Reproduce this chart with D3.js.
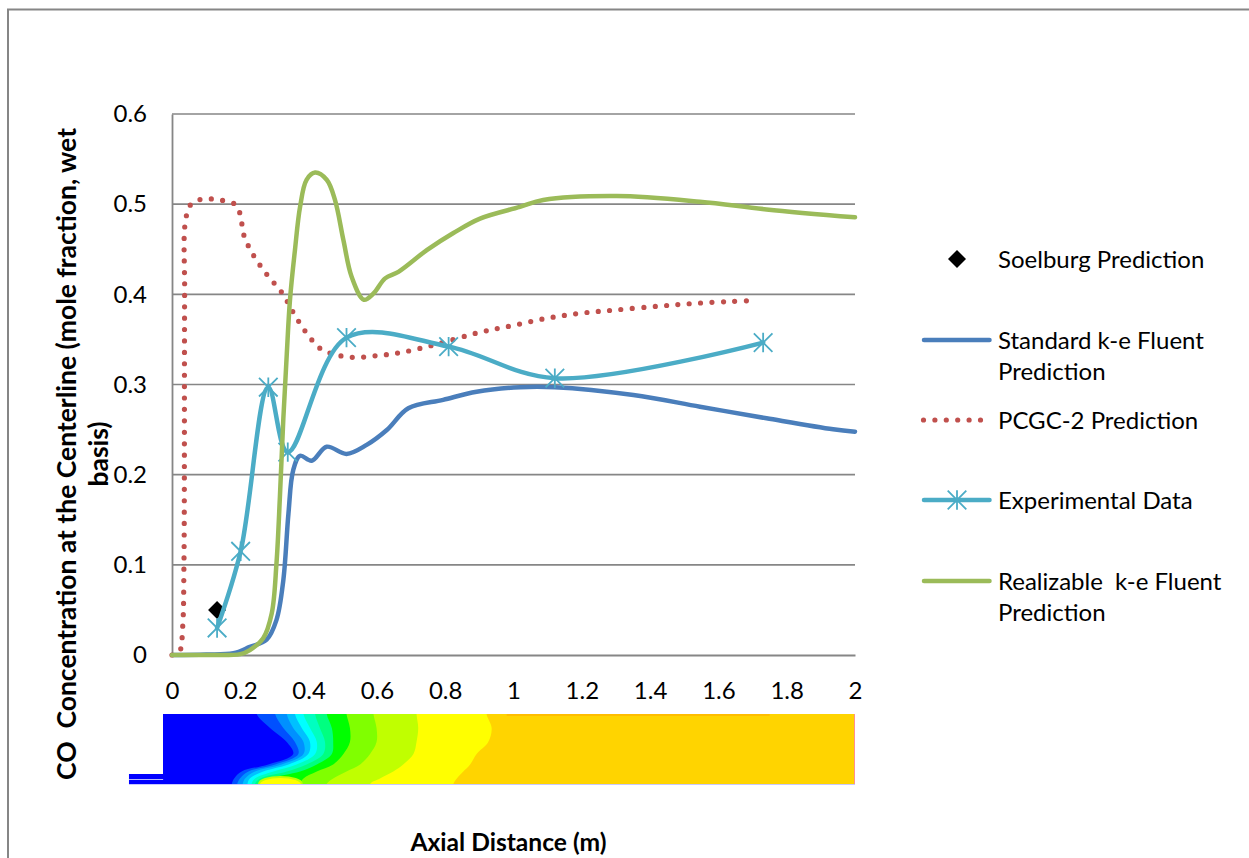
<!DOCTYPE html>
<html><head><meta charset="utf-8">
<script src="https://cdn.jsdelivr.net/npm/d3@7"></script>
<style>body{margin:0;background:#fff}svg{display:block}text{font-family:Lato,'Open Sans',sans-serif;fill:#000}</style>
</head><body><svg id="c" width="1249" height="858"></svg>
<script>
// ---------- data ----------
const xTicks = [0, 0.2, 0.4, 0.6, 0.8, 1, 1.2, 1.4, 1.6, 1.8, 2];
const xTickLabels = ["0", "0.2", "0.4", "0.6", "0.8", "1", "1.2", "1.4", "1.6", "1.8", "2"];
const yTicks = [0, 0.1, 0.2, 0.3, 0.4, 0.5, 0.6];
const yTickLabels = ["0", "0.1", "0.2", "0.3", "0.4", "0.5", "0.6"];

const seriesNames = ["Soelburg Prediction", "Standard k-e Fluent Prediction", "PCGC-2 Prediction", "Experimental Data", "Realizable  k-e Fluent Prediction"];

const soelburgX = [0.132];
const soelburgY = [0.050];

const standardX = [0, 0.10, 0.18, 0.228, 0.277, 0.306, 0.326, 0.341, 0.355, 0.375, 0.409, 0.453, 0.511, 0.570, 0.629, 0.692, 0.794, 0.892, 1.019, 1.121, 1.351, 1.546, 1.741, 1.936, 2.0];
const standardY = [0, 0.0005, 0.002, 0.009, 0.017, 0.039, 0.083, 0.157, 0.205, 0.221, 0.2155, 0.231, 0.223, 0.233, 0.2495, 0.2736, 0.283, 0.292, 0.297, 0.297, 0.2883, 0.2754, 0.2625, 0.2503, 0.2477];

const pcgcX = [0, 0.022, 0.031, 0.035, 0.037, 0.039, 0.055, 0.084, 0.118, 0.150, 0.184, 0.199, 0.211, 0.240, 0.279, 0.322, 0.355, 0.391, 0.436, 0.480, 0.533, 0.600, 0.668, 0.767, 0.897, 0.995, 1.097, 1.195, 1.297, 1.429, 1.531, 1.631, 1.70];
const pcgcY = [0, 0.004, 0.03, 0.10, 0.40, 0.48, 0.4997, 0.5053, 0.5057, 0.504, 0.500, 0.4898, 0.465, 0.4425, 0.4214, 0.4018, 0.380, 0.3586, 0.3394, 0.333, 0.330, 0.332, 0.3353, 0.3438, 0.3575, 0.3652, 0.3734, 0.379, 0.3826, 0.387, 0.390, 0.392, 0.393];

const expX = [0.132, 0.201, 0.282, 0.339, 0.511, 0.810, 1.121, 1.731];
const expY = [0.030, 0.115, 0.297, 0.225, 0.352, 0.342, 0.307, 0.3465];

const realX = [0, 0.10, 0.20, 0.228, 0.267, 0.292, 0.306, 0.316, 0.326, 0.336, 0.3455, 0.360, 0.375, 0.394, 0.419, 0.453, 0.477, 0.502, 0.526, 0.562, 0.590, 0.624, 0.663, 0.746, 0.824, 0.902, 1.019, 1.087, 1.302, 1.546, 1.741, 2.0];
const realY = [0, 0, 0.001, 0.0055, 0.0185, 0.046, 0.102, 0.1755, 0.262, 0.333, 0.394, 0.449, 0.497, 0.527, 0.535, 0.527, 0.505, 0.460, 0.4195, 0.394, 0.401, 0.4177, 0.425, 0.449, 0.468, 0.484, 0.497, 0.5046, 0.509, 0.5027, 0.4942, 0.4854];

// contour strip (CO field): axial positions of band edges at radial fractions
const stripRadial = [0, 0.2, 0.4, 0.57, 0.72, 0.82, 0.92, 1.0];
const contourColors = ["#ffff00", "#c0ff00", "#80ff00", "#00ff00", "#00ff80", "#00ffc0", "#00ffff", "#00c0ff", "#0090ff", "#0050ff", "#0000ff"];
const contourEdges = [
  [0.921, 0.936, 0.926, 0.892, 0.873, 0.853, 0.834, 0.824],
  [0.716, 0.721, 0.716, 0.707, 0.677, 0.648, 0.609, 0.580],
  [0.590, 0.599, 0.599, 0.580, 0.551, 0.511, 0.472, 0.453],
  [0.511, 0.521, 0.521, 0.502, 0.472, 0.424, 0.385, 0.375],
  [0.453, 0.468, 0.472, 0.468, 0.424, 0.375, 0.287, 0.258],
  [0.419, 0.433, 0.448, 0.443, 0.394, 0.336, 0.258, 0.243],
  [0.385, 0.404, 0.424, 0.419, 0.365, 0.297, 0.243, 0.233],
  [0.360, 0.380, 0.404, 0.399, 0.341, 0.267, 0.228, 0.221],
  [0.336, 0.355, 0.385, 0.385, 0.321, 0.243, 0.214, 0.207],
  [0.302, 0.326, 0.360, 0.370, 0.302, 0.224, 0.199, 0.191],
  [0.248, 0.287, 0.336, 0.355, 0.282, 0.204, 0.182, 0.175]
];
const contourBackground = "#ffd400";
const hotSpotX = [0.255, 0.38];
const stripStartX = -0.026, inletStartX = -0.126, stripEndX = 2.0;

// ---------- layout ----------
const svg = d3.select("#c");
const x = d3.scaleLinear().domain([0, 2]).range([172, 855]);
const y = d3.scaleLinear().domain([0, 0.6]).range([655, 114]);
const r = d3.scaleLinear().domain([0, 1]).range([714, 784]);
const GRID = "#868686";
const FS = 24;

// outer frame
svg.append("path").attr("d", "M8,858V9.5H1249").attr("fill", "none").attr("stroke", GRID).attr("stroke-width", 2);

// gridlines
svg.append("g").selectAll("line").data(yTicks.slice(1)).join("line")
  .attr("x1", x(0)).attr("x2", x(2)).attr("y1", d => y(d)).attr("y2", d => y(d))
  .attr("stroke", GRID).attr("stroke-width", 1.6);

// axes
const yAxis = svg.append("g").attr("transform", `translate(${x(0)},0)`)
  .call(d3.axisLeft(y).tickValues(yTicks).tickFormat((d, i) => yTickLabels[i]).tickSize(0).tickPadding(25));
const xAxis = svg.append("g").attr("transform", `translate(0,${y(0)})`)
  .call(d3.axisBottom(x).tickValues(xTicks).tickFormat((d, i) => xTickLabels[i]).tickSize(0).tickPadding(27));
[yAxis, xAxis].forEach(g => {
  g.select(".domain").attr("stroke", GRID).attr("stroke-width", 1.8);
  g.selectAll("text").attr("font-size", FS).attr("font-family", "Lato,'Open Sans',sans-serif").attr("fill", "#000");
});

// ---------- contour strip ----------
const stripTop = r(0), stripBot = r(1);
const clip = svg.append("defs").append("clipPath").attr("id", "stripClip");
clip.append("rect").attr("x", x(stripStartX)).attr("y", stripTop).attr("width", x(stripEndX) - x(stripStartX)).attr("height", stripBot - stripTop);
const strip = svg.append("g").attr("clip-path", "url(#stripClip)");
strip.append("rect").attr("x", x(stripStartX)).attr("y", stripTop).attr("width", x(stripEndX) - x(stripStartX)).attr("height", stripBot - stripTop).attr("fill", contourBackground);
// thin hotter layer along the outer wall
strip.append("line").attr("x1", x(0.98)).attr("x2", x(1.75)).attr("y1", stripTop + 1).attr("y2", stripTop + 1).attr("stroke", "#ffb400").attr("stroke-width", 2).attr("opacity", 0.7);
const edgeLine = d3.line().x(d => x(d[0])).y(d => r(d[1])).curve(d3.curveCatmullRom.alpha(0.5));
contourEdges.forEach((edge, k) => {
  const pts = edge.map((v, i) => [v, stripRadial[i]]);
  pts.unshift([edge[0], -0.15]);
  pts.push([edge[edge.length - 1], 1.15]);
  const d = edgeLine(pts) + `L${x(stripStartX) - 5},${r(1.15)}L${x(stripStartX) - 5},${r(-0.15)}Z`;
  strip.append("path").attr("d", d).attr("fill", contourColors[k]);
  if (k === 4) {
    // hot spot near the axis downstream of the jet
    strip.append("ellipse").attr("cx", (x(hotSpotX[0]) + x(hotSpotX[1])) / 2).attr("cy", stripBot)
      .attr("rx", (x(hotSpotX[1]) - x(hotSpotX[0])) / 2).attr("ry", 7).attr("fill", "#ffff00").attr("stroke", "#c0ff00").attr("stroke-width", 2);
  }
});
strip.append("line").attr("x1", x(stripEndX) - 0.5).attr("x2", x(stripEndX) - 0.5).attr("y1", stripTop).attr("y2", stripBot).attr("stroke", "#ff9090").attr("stroke-width", 1);
// inlet pipe
svg.append("rect").attr("x", x(inletStartX)).attr("y", 774).attr("width", x(stripStartX) - x(inletStartX)).attr("height", 10).attr("fill", "#0000ff");
svg.append("line").attr("x1", x(inletStartX)).attr("x2", x(stripStartX)).attr("y1", 779.5).attr("y2", 779.5).attr("stroke", "#b8b8ff").attr("stroke-width", 1.2);
svg.append("line").attr("x1", x(inletStartX)).attr("x2", x(stripEndX)).attr("y1", stripBot + 0.5).attr("y2", stripBot + 0.5).attr("stroke", "#c8c8ff").attr("stroke-width", 1);

// ---------- series ----------
const line = d3.line().x(d => x(d[0])).y(d => y(d[1])).curve(d3.curveCatmullRom.alpha(0.5));
const zip = (a, b) => a.map((v, i) => [v, b[i]]);
const diamond = "M0,-9L9,0L0,9L-9,0Z";
const star = "M0,-9.7V9.7M-9.3,-9.3L9.3,9.3M-9.3,9.3L9.3,-9.3";
const plot = svg.append("g");

plot.selectAll(".soel").data(zip(soelburgX, soelburgY)).join("path").attr("class", "soel")
  .attr("d", diamond).attr("transform", d => `translate(${x(d[0])},${y(d[1])})`).attr("fill", "#000");

plot.append("path").attr("d", line(zip(standardX, standardY))).attr("fill", "none")
  .attr("stroke", "#4a7ebb").attr("stroke-width", 4.5).attr("stroke-linecap", "round").attr("stroke-linejoin", "round");

plot.append("path").attr("d", line(zip(pcgcX, pcgcY))).attr("fill", "none")
  .attr("stroke", "#c0504d").attr("stroke-width", 5.2).attr("stroke-linecap", "round").attr("stroke-dasharray", "0 11.4");

plot.append("path").attr("d", line(zip(expX, expY))).attr("fill", "none")
  .attr("stroke", "#4bacc6").attr("stroke-width", 4.5).attr("stroke-linecap", "round").attr("stroke-linejoin", "round");
plot.selectAll(".exp").data(zip(expX, expY)).join("path").attr("class", "exp")
  .attr("d", star).attr("transform", d => `translate(${x(d[0])},${y(d[1])})`).attr("fill", "none").attr("stroke", "#4bacc6").attr("stroke-width", 1.8);

plot.append("path").attr("d", line(zip(realX, realY))).attr("fill", "none")
  .attr("stroke", "#9bbb59").attr("stroke-width", 4.5).attr("stroke-linecap", "round").attr("stroke-linejoin", "round");

// ---------- legend ----------
const legendLines = [["Soelburg Prediction"], ["Standard k-e Fluent", "Prediction"], ["PCGC-2 Prediction"], ["Experimental Data"], ["Realizable  k-e Fluent", "Prediction"]];
const legendYs = [259, 340, 420, 500, 581];
const lg = svg.append("g");
legendLines.forEach((lines, i) => {
  const ly = legendYs[i];
  lines.forEach((t, j) => {
    lg.append("text").attr("x", 998).attr("y", ly + j * 31.5).attr("dy", "0.36em")
      .attr("font-size", FS).style("white-space", "pre").text(t);
  });
});
lg.append("path").attr("d", diamond).attr("transform", `translate(957,${legendYs[0]})`).attr("fill", "#000");
[["#4a7ebb", 1], ["#4bacc6", 3], ["#9bbb59", 4]].forEach(([c, i]) => {
  lg.append("line").attr("x1", 924).attr("x2", 989.5).attr("y1", legendYs[i]).attr("y2", legendYs[i])
    .attr("stroke", c).attr("stroke-width", 4.5).attr("stroke-linecap", "round");
});
lg.append("line").attr("x1", 923.5).attr("x2", 981).attr("y1", legendYs[2]).attr("y2", legendYs[2])
  .attr("stroke", "#c0504d").attr("stroke-width", 5.2).attr("stroke-linecap", "round").attr("stroke-dasharray", "0 11.4");
lg.append("path").attr("d", star).attr("transform", `translate(957,${legendYs[3]})`).attr("fill", "none").attr("stroke", "#4bacc6").attr("stroke-width", 1.8);

// ---------- titles ----------
svg.append("text").attr("x", 508.5).attr("y", 851).attr("text-anchor", "middle")
  .attr("font-size", 24.6).attr("font-weight", "bold").text("Axial Distance (m)");
const yTitle = ["CO  Concentration at the Centerline (mole fraction, wet", "basis)"];
[76, 108].forEach((bx, i) => {
  svg.append("text").attr("transform", `translate(${bx},454) rotate(-90)`).attr("text-anchor", "middle")
    .attr("font-size", 26.5).attr("font-weight", "bold").style("white-space", "pre").text(yTitle[i]);
});
</script>
</body></html>
